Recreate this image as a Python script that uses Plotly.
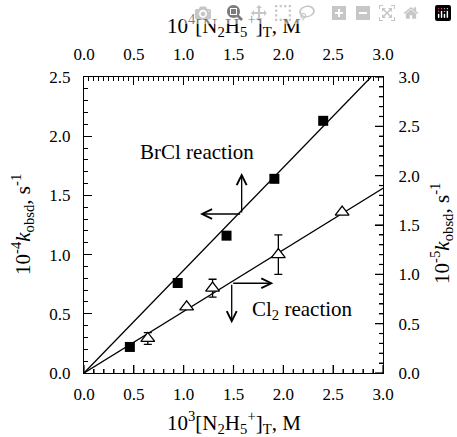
import plotly.graph_objects as go

# BrCl reaction: top axis (10^4 [N2H5+]T, M) vs left axis (10^-4 k_obsd)
brcl_conc = [0.46, 0.94, 1.43, 1.91, 2.40]
brcl_k = [0.22, 0.76, 1.16, 1.64, 2.13]
brcl_slope = 0.868

# Cl2 reaction: bottom axis (10^3 [N2H5+]T, M) vs right axis (10^-5 k_obsd)
cl2_conc = [0.64, 1.03, 1.29, 1.95, 2.59]
cl2_k = [0.35, 0.67, 0.86, 1.20, 1.63]
cl2_err = [0.06, 0.0, 0.09, 0.20, 0.0]
cl2_slope = 0.624

x_range = [0, 3.0]
yl_range = [0, 2.5]
yr_range = [0, 3.0]
tick_vals_x = [0.0, 0.5, 1.0, 1.5, 2.0, 2.5, 3.0]
tick_vals_yl = [0.0, 0.5, 1.0, 1.5, 2.0, 2.5]
tick_vals_yr = [0.0, 0.5, 1.0, 1.5, 2.0, 2.5, 3.0]

title_bottom = "10<sup>3</sup>[N<sub>2</sub>H<sub>5</sub><sup>+</sup>]<sub>T</sub>, M"
title_top = "10<sup>4</sup>[N<sub>2</sub>H<sub>5</sub><sup>+</sup>]<sub>T</sub>, M"
title_left = "10<sup>-4</sup><i>k</i><sub>obsd</sub>, s<sup>-1</sup>"
title_right = "10<sup>-5</sup><i>k</i><sub>obsd</sub>, s<sup>-1</sup>"

FONT = "Liberation Serif"
tickfont = dict(family=FONT, size=17, color="black")
titlefont = dict(family=FONT, size=21, color="black")

W, H = 457, 437
ML, MR, MT, MB = 84, 74, 77, 64
PW, PH = W - ML - MR, H - MT - MB

fig = go.Figure()

# invisible anchor trace for the base subplot
fig.add_trace(go.Scatter(x=[0], y=[0], mode="markers", marker=dict(opacity=0),
                         xaxis="x", yaxis="y", showlegend=False, hoverinfo="skip"))

# Cl2: overlay subplot x3y3 (bottom x, right y)
fig.add_trace(go.Scatter(
    x=[0, x_range[1]], y=[0, cl2_slope * x_range[1]],
    mode="lines", line=dict(color="black", width=1.3),
    xaxis="x3", yaxis="y3", showlegend=False, hoverinfo="skip"))
fig.add_trace(go.Scatter(
    x=cl2_conc, y=cl2_k, mode="markers",
    marker=dict(symbol="triangle-up", size=12, color="white",
                line=dict(color="black", width=1.3)),
    error_y=dict(type="data", array=cl2_err, visible=True,
                 color="black", thickness=1.3, width=4),
    xaxis="x3", yaxis="y3", showlegend=False))
# BrCl: overlay subplot x2y2 (top x, left y)
fig.add_trace(go.Scatter(
    x=[0, yl_range[1] / brcl_slope], y=[0, yl_range[1]],
    mode="lines", line=dict(color="black", width=1.3),
    xaxis="x2", yaxis="y2", showlegend=False, hoverinfo="skip"))
fig.add_trace(go.Scatter(
    x=brcl_conc, y=brcl_k, mode="markers",
    marker=dict(symbol="square", size=10, color="black"),
    xaxis="x2", yaxis="y2", showlegend=False))

common = dict(
    showline=True, linecolor="black", linewidth=1.3,
    ticks="inside", ticklen=8, tickwidth=1.2, tickcolor="black",
    showgrid=False, zeroline=False, tickfont=tickfont,
    tickformat=".1f", layer="above traces",
)
hidden = dict(showline=False, ticks="", showticklabels=False, showgrid=False, zeroline=False)

def minor(dt):
    return dict(dtick=dt, ticks="inside", ticklen=4, tickwidth=1.2, tickcolor="black")

fig.update_layout(
    width=W, height=H,
    margin=dict(l=ML, r=MR, t=MT, b=MB),
    paper_bgcolor="white", plot_bgcolor="rgba(0,0,0,0)",
    font=dict(family=FONT, size=17, color="black"),
    xaxis=dict(range=x_range, anchor="y", **hidden),
    yaxis=dict(range=yr_range, anchor="x", **hidden),
    xaxis3=dict(range=x_range, tickvals=tick_vals_x, overlaying="x", side="bottom", anchor="y3",
                minor=minor(0.1), ticklabelstandoff=5, **common),
    yaxis3=dict(range=yr_range, tickvals=tick_vals_yr, overlaying="y", side="right", anchor="x3",
                minor=minor(0.1), ticklabelstandoff=11, **common),
    xaxis2=dict(range=x_range, tickvals=tick_vals_x, overlaying="x", side="top", anchor="y2",
                minor=minor(0.05), ticklabelstandoff=9, **common),
    yaxis2=dict(range=yl_range, tickvals=tick_vals_yl, overlaying="y", side="left", anchor="x2",
                minor=minor(0.1), ticklabelstandoff=9, **common),
)

# Inside tick marks for the bottom and right axes, from the axis tick values
MAJ, MIN = 8, 4
minor_x = [round(i * 0.1, 2) for i in range(int(round(x_range[1] / 0.1)) + 1)]
minor_yr = [round(i * 0.1, 2) for i in range(int(round(yr_range[1] / 0.1)) + 1)]
tick_line = dict(color="black", width=1.2)
for v in minor_x:
    ln = MAJ if v in tick_vals_x else MIN
    fig.add_shape(type="line", xref="x", yref="paper", x0=v, x1=v, y0=0, y1=ln / PH,
                  line=tick_line, layer="above")
for v in minor_yr:
    ln = MAJ if v in tick_vals_yr else MIN
    fig.add_shape(type="line", xref="paper", yref="y", x0=1 - ln / PW, x1=1, y0=v, y1=v,
                  line=tick_line, layer="above")

# Axis titles
axis_titles = [
    dict(text=title_top, x=0.5, y=(H - MB - 25) / PH, angle=0),
    dict(text=title_bottom, x=0.5, y=(H - MB - 422) / PH, angle=0),
    dict(text=title_left, x=(22 - ML) / PW, y=0.5, angle=-90),
    dict(text=title_right, x=(442 - ML) / PW, y=0.47, angle=-90),
]
for t in axis_titles:
    fig.add_annotation(text=t["text"], x=t["x"], y=t["y"], xref="paper", yref="paper",
                       xanchor="center", yanchor="middle", showarrow=False,
                       textangle=t["angle"], font=titlefont)

labels = [
    dict(text="BrCl reaction", x=1.134, y=1.866, xanchor="center"),
    dict(text="Cl<sub>2</sub> reaction", x=1.666, y=0.532, xanchor="left"),
]
for lab in labels:
    fig.add_annotation(text=lab["text"], x=lab["x"], y=lab["y"], xref="x2", yref="y2",
                       xanchor=lab["xanchor"], yanchor="middle", showarrow=False,
                       font=dict(family=FONT, size=21, color="black"))

# arrows: (tail_x, tail_y, tip_x, tip_y) in top-x / left-y coordinates
arrows = [
    (1.582, 1.343, 1.582, 1.689),
    (1.582, 1.343, 1.164, 1.343),
    (1.482, 0.758, 1.900, 0.758),
    (1.482, 0.758, 1.482, 0.420),
]
for tx, ty, hx, hy in arrows:
    fig.add_annotation(x=hx, y=hy, ax=tx, ay=ty, xref="x2", yref="y2", axref="x2", ayref="y2",
                       text="", showarrow=True, arrowhead=5, arrowsize=1.5,
                       arrowwidth=1.3, arrowcolor="black", standoff=0, startstandoff=0)

fig.write_html("out.html",
               post_script="document.body.style.margin='0';document.body.style.overflow='hidden';")
